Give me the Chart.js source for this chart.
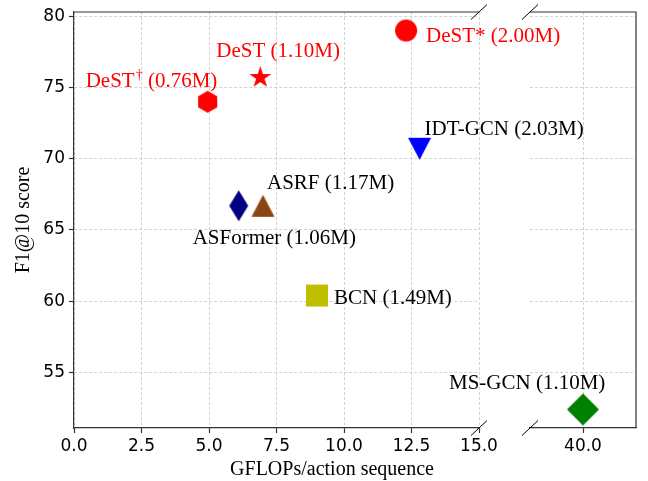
<!DOCTYPE html>
<html>
<head>
<meta charset="utf-8">
<script src="https://cdn.jsdelivr.net/npm/chart.js@4.4.1/dist/chart.umd.min.js"></script>
<style>
  html, body { margin: 0; padding: 0; background: #fff; overflow: hidden; }
  #wrap { position: relative; width: 648px; height: 481px; }
  #wrap canvas { position: absolute; left: 0; top: 0; }
</style>
</head>
<body>
<div id="wrap">
  <canvas id="left" width="648" height="481"></canvas>
  <canvas id="right" width="648" height="481"></canvas>
</div>
<script>
// data
const models = ['DeST†', 'DeST', 'DeST*', 'IDT-GCN', 'ASFormer', 'ASRF', 'BCN', 'MS-GCN'];
const paramCounts = ['0.76M', '1.10M', '2.00M', '2.03M', '1.06M', '1.17M', '1.49M', '1.10M'];
const gflops = [4.95, 6.9, 12.3, 12.8, 6.1, 7.0, 9.0, 40.0];
const f1Scores = [74.0, 75.7, 79.0, 70.7, 66.7, 66.7, 60.4, 52.4];
const yTicks = [55, 60, 65, 70, 75, 80];
const xTicksLeft = [0, 2.5, 5, 7.5, 10, 12.5, 15];
const xTicksRight = [40];

// styling
const markers = ['hexagon', 'star', 'circle', 'triangleDown', 'thinDiamond', 'triangleUp', 'square', 'diamond'];
const markerColors = ['#ff0000', '#ff0000', '#ff0000', '#0000ff', '#000080', '#8b4513', '#bfbf00', '#008000'];
const markerSizes = [[19, 22], [23, 23], [22, 22], [23, 22], [19, 31], [23, 22], [22, 22], [32, 32]];
const labelColors = ['#ff0000', '#ff0000', '#ff0000', '#000', '#000', '#000', '#000', '#000'];
const labelOffsets = [[-122, -15], [-44, -21], [20, 11], [5, -14], [-46, 38], [4, -17], [17, 8], [-134, -20]];

const BREAK_AT = 15;
const Y_MIN = 51.1, Y_MAX = 80.3;
const SERIF = '"Liberation Serif", "Times New Roman", serif';
const SANS = '"DejaVu Sans", sans-serif';
const SPINE = '#333';
const GRID = '#c8c8c8';

function makeMarker(shape, color, w, h) {
  const c = document.createElement('canvas');
  c.width = Math.ceil(w) + 2;
  c.height = Math.ceil(h) + 2;
  const g = c.getContext('2d');
  const cx = c.width / 2, cy = c.height / 2;
  g.fillStyle = color;
  g.beginPath();
  if (shape === 'circle') {
    g.arc(cx, cy, w / 2, 0, Math.PI * 2);
  } else if (shape === 'hexagon') {
    for (let k = 0; k < 6; k++) {
      const a = -Math.PI / 2 + k * Math.PI / 3;
      g.lineTo(cx + Math.cos(a) * h / 2, cy + Math.sin(a) * h / 2);
    }
  } else if (shape === 'star') {
    const R = w / 2, r = R * 0.381966;
    for (let k = 0; k < 10; k++) {
      const a = -Math.PI / 2 + k * Math.PI / 5;
      const rr = k % 2 ? r : R;
      g.lineTo(cx + Math.cos(a) * rr, cy + Math.sin(a) * rr);
    }
  } else if (shape === 'triangleDown') {
    g.moveTo(cx - w / 2, cy - h / 2);
    g.lineTo(cx + w / 2, cy - h / 2);
    g.lineTo(cx, cy + h / 2);
  } else if (shape === 'triangleUp') {
    g.moveTo(cx, cy - h / 2);
    g.lineTo(cx + w / 2, cy + h / 2);
    g.lineTo(cx - w / 2, cy + h / 2);
  } else if (shape === 'square') {
    g.rect(cx - w / 2, cy - h / 2, w, h);
  } else {
    g.moveTo(cx, cy - h / 2);
    g.lineTo(cx + w / 2, cy);
    g.lineTo(cx, cy + h / 2);
    g.lineTo(cx - w / 2, cy);
  }
  g.closePath();
  g.fill();
  return c;
}

function drawLabel(ctx, i, x, y) {
  ctx.save();
  ctx.fillStyle = labelColors[i];
  ctx.textAlign = 'left';
  ctx.textBaseline = 'alphabetic';
  const name = models[i];
  const sup = name.endsWith('†') ? '†' : '';
  const base = sup ? name.slice(0, -1) : name;
  ctx.font = '21px ' + SERIF;
  ctx.fillText(base, x, y);
  let cx = x + ctx.measureText(base).width;
  if (sup) {
    ctx.font = '14px ' + SERIF;
    ctx.fillText(sup, cx + 1, y - 8);
    cx += ctx.measureText(sup).width + 1;
    ctx.font = '21px ' + SERIF;
  }
  ctx.fillText(' (' + paramCounts[i] + ')', cx, y);
  ctx.restore();
}

const labelPlugin = {
  id: 'pointLabels',
  afterDatasetsDraw(chart) {
    const xs = chart.scales.x, ys = chart.scales.y;
    chart.data.datasets.forEach(ds => {
      const i = ds.modelIndex;
      drawLabel(chart.ctx, i,
        xs.getPixelForValue(gflops[i]) + labelOffsets[i][0],
        ys.getPixelForValue(f1Scores[i]) + labelOffsets[i][1]);
    });
  }
};

// top / right spines and the "//" axis-break marks
const framePlugin = {
  id: 'frame',
  afterDraw(chart, args, opts) {
    const ctx = chart.ctx, a = chart.chartArea;
    ctx.save();
    ctx.strokeStyle = SPINE;
    ctx.lineWidth = 1.2;
    ctx.beginPath();
    ctx.moveTo(a.left, a.top);
    ctx.lineTo(a.right, a.top);
    if (opts.rightSpine) {
      ctx.lineTo(a.right, a.bottom);
    }
    ctx.stroke();
    ctx.strokeStyle = '#000';
    ctx.lineWidth = 1;
    const bx = opts.breakSide === 'right' ? a.right : a.left;
    [a.top, a.bottom].forEach(y => {
      ctx.beginPath();
      ctx.moveTo(bx - 8, y + 7.5);
      ctx.lineTo(bx + 8, y - 7.5);
      ctx.stroke();
    });
    if (opts.xTitle) {
      ctx.fillStyle = '#000';
      ctx.font = '20px ' + SERIF;
      ctx.textAlign = 'center';
      ctx.textBaseline = 'alphabetic';
      ctx.fillText(opts.xTitle, 332, 475);
    }
    ctx.restore();
  }
};

function datasetsFor(test) {
  const out = [];
  models.forEach((m, i) => {
    if (!test(gflops[i])) return;
    out.push({
      label: m,
      modelIndex: i,
      data: [{ x: gflops[i], y: f1Scores[i] }],
      pointStyle: makeMarker(markers[i], markerColors[i], markerSizes[i][0], markerSizes[i][1]),
      pointRadius: 11,
      backgroundColor: markerColors[i]
    });
  });
  return out;
}

function yScale(main) {
  return {
    type: 'linear',
    min: Y_MIN,
    max: Y_MAX,
    afterBuildTicks: s => { s.ticks = yTicks.map(v => ({ value: v })); },
    afterFit: s => { s.width = main ? 74 : 0; s.paddingTop = 0; s.paddingBottom = 0; },
    ticks: { display: main, padding: 4, color: '#000', font: { family: SANS, size: 17 }, callback: v => String(v) },
    grid: { color: GRID, lineWidth: 0.8, drawTicks: main, tickLength: 5, tickColor: SPINE, tickWidth: 1.2 },
    border: { display: main, color: SPINE, width: 1.2, dash: [3, 2] },
    title: main
      ? { display: true, text: 'F1@10 score', color: '#000', font: { family: SERIF, size: 20 }, padding: { top: 12, bottom: 0 } }
      : { display: false }
  };
}

function xScale(min, max, tickValues) {
  return {
    type: 'linear',
    min: min,
    max: max,
    afterBuildTicks: s => { s.ticks = tickValues.map(v => ({ value: v })); },
    afterFit: s => { s.height = 53; s.paddingLeft = 0; s.paddingRight = 0; },
    ticks: { padding: 3, color: '#000', font: { family: SANS, size: 17 }, maxRotation: 0, callback: v => Number(v).toFixed(1) },
    grid: { color: GRID, lineWidth: 0.8, tickLength: 5, tickColor: SPINE, tickWidth: 1.2 },
    border: { color: SPINE, width: 1.2, dash: [3, 2] }
  };
}

function commonOptions(padding, frameOpts, xMin, xMax, xTicks, main) {
  return {
    responsive: false,
    animation: false,
    events: [],
    layout: { padding: padding },
    plugins: { legend: { display: false }, tooltip: { enabled: false }, frame: frameOpts },
    scales: { x: xScale(xMin, xMax, xTicks), y: yScale(main) }
  };
}

new Chart(document.getElementById('left'), {
  type: 'scatter',
  data: { datasets: datasetsFor(v => v <= BREAK_AT) },
  options: commonOptions({ left: 0, right: 169, top: 8, bottom: 0 },
    { breakSide: 'right', rightSpine: false, xTitle: 'GFLOPs/action sequence' },
    0, 15, xTicksLeft, true),
  plugins: [labelPlugin, framePlugin]
});

new Chart(document.getElementById('right'), {
  type: 'scatter',
  data: { datasets: datasetsFor(v => v > BREAK_AT) },
  options: commonOptions({ left: 530, right: 10, top: 8, bottom: 0 },
    { breakSide: 'left', rightSpine: true },
    38, 42, xTicksRight, false),
  plugins: [labelPlugin, framePlugin]
});
</script>
</body>
</html>
